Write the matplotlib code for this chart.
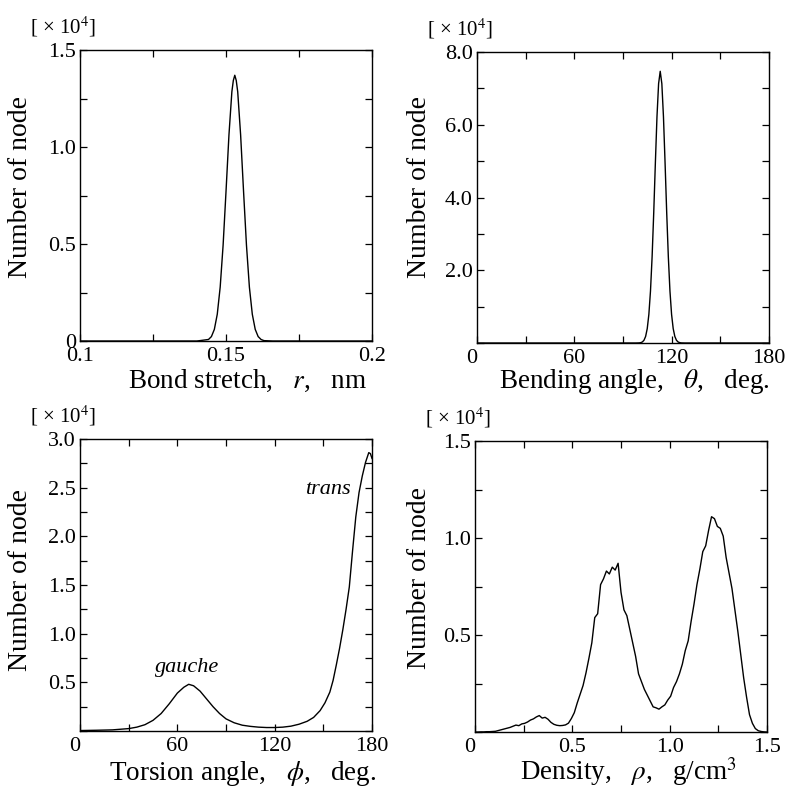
import numpy as np
import matplotlib
matplotlib.use("Agg")
import matplotlib.pyplot as plt

plt.rcParams['font.family'] = 'Liberation Serif'
plt.rcParams['mathtext.fontset'] = 'stix'

# bond stretch r [nm] vs count [x1e4]
bond_r = [0.100, 0.140, 0.144, 0.145, 0.146, 0.147, 0.148, 0.149, 0.150, 0.151, 0.152,
          0.1525, 0.153, 0.1535, 0.154, 0.155, 0.156, 0.157, 0.158, 0.159, 0.160,
          0.161, 0.162, 0.163, 0.166, 0.200]
bond_n = [0.0, 0.0, 0.008, 0.023, 0.060, 0.138, 0.278, 0.494, 0.772, 1.062, 1.285,
          1.343, 1.370, 1.343, 1.285, 1.062, 0.772, 0.494, 0.278, 0.138, 0.060,
          0.023, 0.008, 0.002, 0.0, 0.0]

# bending angle theta [deg]
bend_t = [0, 98, 100, 101, 102, 103, 104, 105, 106, 107, 108, 109, 110, 111, 112, 113,
          114, 115, 116, 117, 118, 119, 120, 121, 122, 123, 124, 125, 126, 128, 180]
bend_n = [0.0, 0.0, 0.003, 0.010, 0.029, 0.076, 0.181, 0.396, 0.787, 1.43, 2.37, 3.58,
          4.94, 6.22, 7.13, 7.47, 7.13, 6.22, 4.94, 3.58, 2.37, 1.43, 0.787, 0.396,
          0.181, 0.076, 0.029, 0.010, 0.003, 0.0, 0.0]

# torsion angle phi [deg]
tors_p = [0, 10, 20, 30, 35, 40, 45, 50, 55, 60, 64, 67, 70, 74, 78, 82, 86, 90, 95,
          100, 105, 110, 115, 120, 125, 130, 135, 140, 144, 148, 151, 154, 156, 158,
          160, 162, 164, 166, 168, 170, 172, 174, 176, 178, 179, 180]
tors_n = [0.005, 0.008, 0.012, 0.025, 0.040, 0.065, 0.110, 0.180, 0.280, 0.390, 0.450,
          0.480, 0.465, 0.410, 0.330, 0.250, 0.180, 0.125, 0.085, 0.060, 0.048, 0.040,
          0.036, 0.036, 0.040, 0.050, 0.070, 0.100, 0.140, 0.210, 0.290, 0.400, 0.520,
          0.680, 0.850, 1.040, 1.250, 1.480, 1.850, 2.200, 2.450, 2.620, 2.760, 2.860,
          2.850, 2.800]

# density rho [g/cm3], sampled every 0.015
dens_rho = np.arange(101) * 0.015
dens_n = [0.000, 0.000, 0.001, 0.001, 0.002, 0.002, 0.003, 0.004, 0.008, 0.012,
          0.016, 0.020, 0.024, 0.030, 0.036, 0.033, 0.042, 0.045, 0.052, 0.062,
          0.068, 0.078, 0.085, 0.072, 0.076, 0.066, 0.050, 0.040, 0.035, 0.033,
          0.034, 0.037, 0.046, 0.070, 0.100, 0.150, 0.195, 0.240, 0.305, 0.380,
          0.460, 0.590, 0.610, 0.760, 0.790, 0.830, 0.815, 0.850, 0.835, 0.870,
          0.720, 0.630, 0.600, 0.530, 0.460, 0.390, 0.300, 0.260, 0.220, 0.190,
          0.160, 0.130, 0.125, 0.118, 0.130, 0.140, 0.165, 0.185, 0.230, 0.260,
          0.300, 0.350, 0.420, 0.470, 0.570, 0.660, 0.760, 0.840, 0.930, 0.960,
          1.040, 1.110, 1.100, 1.060, 1.050, 1.010, 0.900, 0.820, 0.740, 0.630,
          0.520, 0.400, 0.280, 0.180, 0.090, 0.045, 0.018, 0.007, 0.003, 0.001,
          0.000]


def style_axes(ax, xlim, xticks, xlabels, ylim, yticks, ylabels):
    ax.set_xlim(xlim)
    ax.set_ylim(ylim)
    ax.set_xticks(xticks, xlabels)
    ax.set_yticks(yticks, ylabels)
    ax.tick_params(direction='in', top=True, right=True, length=5, width=0.9,
                   labelsize=16)
    ax.tick_params(axis='x', pad=4)
    ax.tick_params(axis='y', pad=3)
    for s in ax.spines.values():
        s.set_linewidth(1.0)
    ax.text(-0.172, 1.058, '[ \u00d7 10$^{4}$]', transform=ax.transAxes,
            fontsize=15, ha='left', va='baseline')


fig = plt.figure(figsize=(7.87, 7.94), dpi=100)
ax1 = fig.add_axes([0.1017, 0.5705, 0.371, 0.3665])
ax2 = fig.add_axes([0.606, 0.568, 0.371, 0.3665])
ax3 = fig.add_axes([0.1017, 0.0793, 0.371, 0.3678])
ax4 = fig.add_axes([0.6036, 0.078, 0.371, 0.3665])

ax1.plot(bond_r, bond_n, color='black', lw=1.0)
style_axes(ax1, (0.1, 0.2), [0.1, 0.125, 0.15, 0.175, 0.2], ['0.1', '', '0.15', '', '0.2'],
           (0, 1.5), [0, 0.25, 0.5, 0.75, 1.0, 1.25, 1.5],
           ['0', '', '0.5', '', '1.0', '', '1.5'])

ax2.plot(bend_t, bend_n, color='black', lw=1.0)
style_axes(ax2, (0, 180), [0, 30, 60, 90, 120, 150, 180], ['0', '', '60', '', '120', '', '180'],
           (0, 8), [0, 1, 2, 3, 4, 5, 6, 7, 8],
           ['', '', '2.0', '', '4.0', '', '6.0', '', '8.0'])

ax3.plot(tors_p, tors_n, color='black', lw=1.0)
style_axes(ax3, (0, 180), [0, 30, 60, 90, 120, 150, 180], ['0', '', '60', '', '120', '', '180'],
           (0, 3.0), [0, 0.25, 0.5, 0.75, 1.0, 1.25, 1.5, 1.75, 2.0, 2.25, 2.5, 2.75, 3.0],
           ['', '', '0.5', '', '1.0', '', '1.5', '', '2.0', '', '2.5', '', '3.0'])
ax3.text(65.8, 0.61, 'gauche', style='italic', fontsize=16, ha='center', va='baseline')
ax3.text(152.6, 2.44, 'trans', style='italic', fontsize=16, ha='center', va='baseline')

ax4.plot(dens_rho, dens_n, color='black', lw=1.0)
style_axes(ax4, (0, 1.5), [0, 0.25, 0.5, 0.75, 1.0, 1.25, 1.5], ['0', '', '0.5', '', '1.0', '', '1.5'],
           (0, 1.5), [0, 0.25, 0.5, 0.75, 1.0, 1.25, 1.5],
           ['', '', '0.5', '', '1.0', '', '1.5'])

# the "0" at the lower-left corner sits a little left of the axis in the original
for ax in (ax2, ax3, ax4):
    ax.get_xticklabels()[0].set_horizontalalignment('right')
    ax.get_xticklabels()[0].set_x(0.02 * (ax.get_xlim()[1] - ax.get_xlim()[0]))

# axis labels
xlabels = [(ax1, 'Bond stretch,   $r$,   nm', 0.572, -0.160),
           (ax2, r'Bending angle,   $\theta$,   deg.', 0.538, -0.153),
           (ax3, r'Torsion angle,   $\phi$,   deg.', 0.556, -0.168),
           (ax4, r'Density,   $\rho$,   g/cm$^3$', 0.526, -0.165)]
for ax, txt, x, y in xlabels:
    ax.text(x, y, txt, transform=ax.transAxes, fontsize=19.5, ha='center', va='baseline')

ylab = [(ax1, -0.161, 0.529), (ax2, -0.154, 0.536), (ax3, -0.161, 0.517), (ax4, -0.147, 0.529)]
for ax, x, y in ylab:
    ax.set_ylabel('Number of node', fontsize=20)
    ax.yaxis.set_label_coords(x, y)

fig.savefig('out.png', dpi=100)
